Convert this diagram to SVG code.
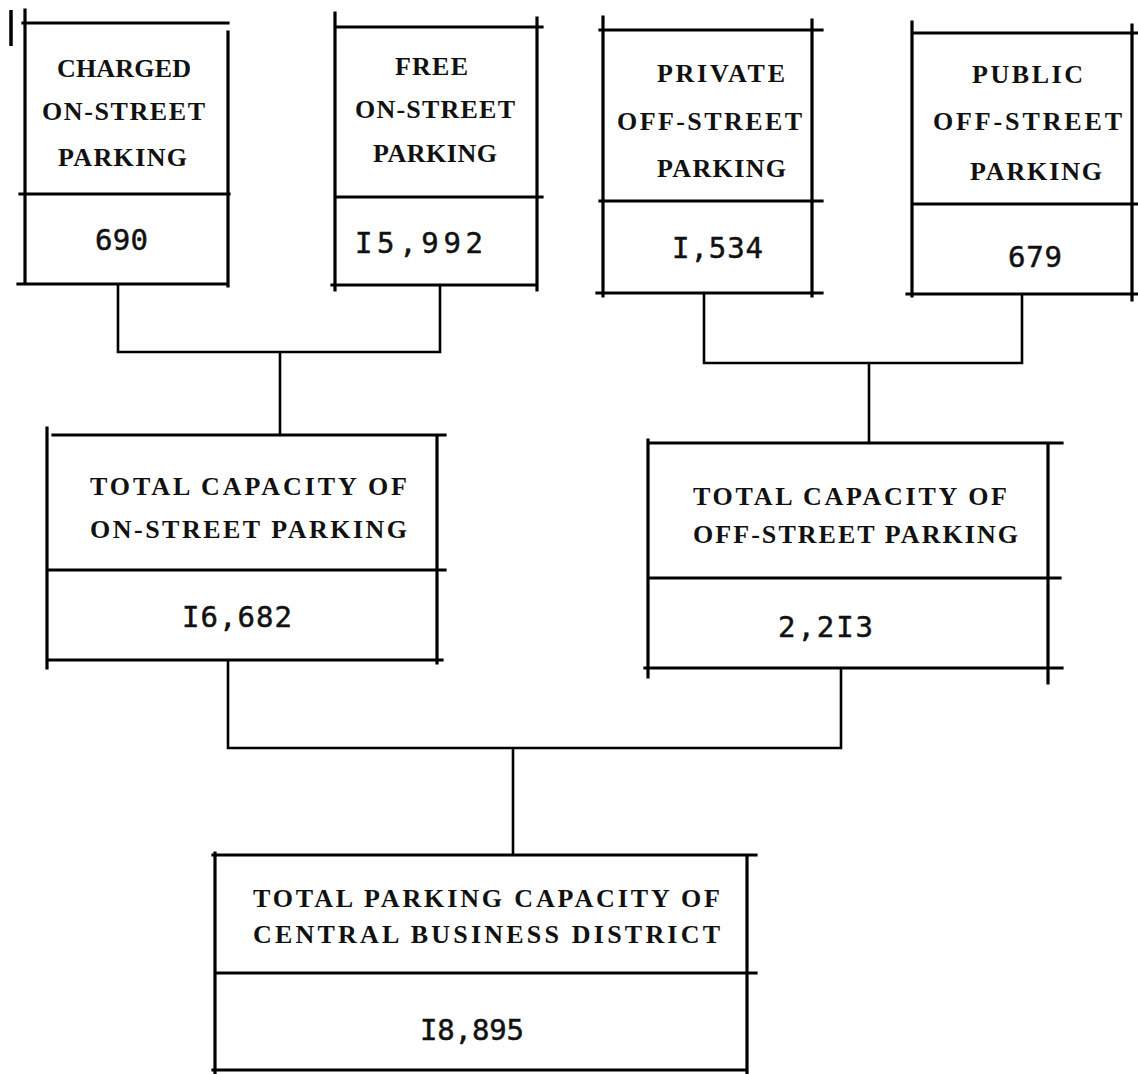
<svg xmlns="http://www.w3.org/2000/svg" width="1138" height="1074" viewBox="0 0 1138 1074">
  <style>
    .box { fill: none; stroke: #000; stroke-width: 3.2; stroke-linecap: square; }
    .conn { fill: none; stroke: #000; stroke-width: 2.6; }
    .lbl { font-family: "Liberation Serif", "Times New Roman", serif; font-weight: bold; font-size: 26px; fill: #111; }
    .num { font-family: "DejaVu Sans Mono", "Liberation Mono", monospace; font-size: 29px; fill: #111; stroke: #111; stroke-width: 0.5; }
  </style>
  <rect width="1138" height="1074" fill="#fff"/>
  <line x1="11" y1="10" x2="11" y2="46" stroke="#000" stroke-width="3.5"/>

  <g id="conn">
    <path class="conn" d="M118 284 V352 H440 V285 M280 352 V435"/>
    <path class="conn" d="M704 293 V363 H1022 V294 M869 363 V443"/>
    <path class="conn" d="M228 660 V748 H841 V668 M513 748 V855"/>
  </g>

  <g id="charged">
    <path class="box" d="M25 10 V282 M23 23 H228 M228 32 V286 M20 194 H229 M18 284 H228"/>
    <text class="lbl" x="57" y="77" textLength="134" lengthAdjust="spacing">CHARGED</text>
    <text class="lbl" x="42" y="120" textLength="163" lengthAdjust="spacing">ON-STREET</text>
    <text class="lbl" x="58" y="166" textLength="129" lengthAdjust="spacing">PARKING</text>
    <text class="num" x="95" y="250" textLength="53" lengthAdjust="spacing">690</text>
  </g>

  <g id="free">
    <path class="box" d="M335 13 V290 M335 27 H542 M537 18 V290 M335 197 H542 M332 285 H537"/>
    <text class="lbl" x="395" y="75" textLength="73" lengthAdjust="spacing">FREE</text>
    <text class="lbl" x="355" y="118" textLength="160" lengthAdjust="spacing">ON-STREET</text>
    <text class="lbl" x="373" y="162" textLength="124" lengthAdjust="spacing">PARKING</text>
    <text class="num" x="355" y="253" textLength="128" lengthAdjust="spacing">I5,992</text>
  </g>

  <g id="private">
    <path class="box" d="M603 17 V296 M600 30 H822 M812 20 V296 M600 201 H822 M597 293 H822"/>
    <text class="lbl" x="657" y="82" textLength="128" lengthAdjust="spacing">PRIVATE</text>
    <text class="lbl" x="617" y="130" textLength="185" lengthAdjust="spacing">OFF-STREET</text>
    <text class="lbl" x="657" y="177" textLength="129" lengthAdjust="spacing">PARKING</text>
    <text class="num" x="672" y="258" textLength="91" lengthAdjust="spacing">I,534</text>
  </g>

  <g id="public">
    <path class="box" d="M912 22 V296 M912 33 H1138 M1132 25 V300 M912 204 H1138 M907 294 H1138"/>
    <text class="lbl" x="972" y="83" textLength="111" lengthAdjust="spacing">PUBLIC</text>
    <text class="lbl" x="933" y="130" textLength="189" lengthAdjust="spacing">OFF-STREET</text>
    <text class="lbl" x="970" y="180" textLength="132" lengthAdjust="spacing">PARKING</text>
    <text class="num" x="1008" y="267" textLength="54" lengthAdjust="spacing">679</text>
  </g>

  <g id="onstreet-total">
    <path class="box" d="M47 428 V668 M53 435 H445 M437 435 V663 M47 570 H445 M50 660 H442"/>
    <text class="lbl" x="90" y="495" textLength="317" lengthAdjust="spacing">TOTAL CAPACITY OF</text>
    <text class="lbl" x="90" y="538" textLength="317" lengthAdjust="spacing">ON-STREET PARKING</text>
    <text class="num" x="182" y="627" textLength="110" lengthAdjust="spacing">I6,682</text>
  </g>

  <g id="offstreet-total">
    <path class="box" d="M648 440 V677 M648 443 H1062 M1048 443 V683 M648 578 H1060 M645 668 H1062"/>
    <text class="lbl" x="693" y="505" textLength="314" lengthAdjust="spacing">TOTAL CAPACITY OF</text>
    <text class="lbl" x="693" y="543" textLength="325" lengthAdjust="spacing">OFF-STREET PARKING</text>
    <text class="num" x="778" y="637" textLength="95" lengthAdjust="spacing">2,2I3</text>
  </g>

  <g id="cbd-total">
    <path class="box" d="M215 853 V1074 M213 855 H756 M747 858 V1074 M215 973 H756 M213 1070 H747"/>
    <text class="lbl" x="253" y="907" textLength="467" lengthAdjust="spacing">TOTAL PARKING CAPACITY OF</text>
    <text class="lbl" x="253" y="943" textLength="467" lengthAdjust="spacing">CENTRAL BUSINESS DISTRICT</text>
    <text class="num" x="420" y="1040" textLength="104" lengthAdjust="spacing">I8,895</text>
  </g>
</svg>
